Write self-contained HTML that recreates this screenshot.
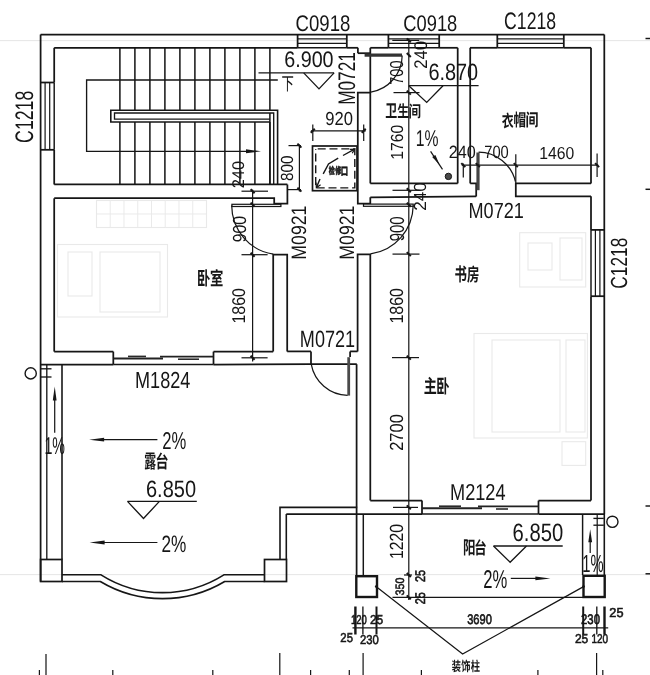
<!DOCTYPE html>
<html><head><meta charset="utf-8"><title>Floor plan</title>
<style>
html,body{margin:0;padding:0;background:#fff;}
body{width:650px;height:675px;overflow:hidden;font-family:"Liberation Sans",sans-serif;}
svg{display:block;filter:grayscale(1)}
svg text{font-family:"Liberation Sans",sans-serif;font-size:20px;font-kerning:none;text-rendering:geometricPrecision;white-space:pre}
svg text.cjk{font-family:"Liberation Sans","Noto Sans CJK SC",sans-serif;font-weight:bold}
</style></head><body>
<svg width="650" height="675" viewBox="0 0 650 675" stroke-linecap="butt">
<rect width="650" height="675" fill="#ffffff"/>
<line x1="0" y1="40.6" x2="650" y2="40.6" stroke="#e4e4e4" stroke-width="0.976"/>
<line x1="0" y1="574.6" x2="650" y2="574.6" stroke="#e4e4e4" stroke-width="0.976"/>
<rect x="96.5" y="200.5" width="110" height="27" fill="none" stroke="#e9e9e9" stroke-width="1.098"/>
<line x1="110.25" y1="200.5" x2="110.25" y2="227.5" stroke="#e9e9e9" stroke-width="0.976"/>
<line x1="124" y1="200.5" x2="124" y2="227.5" stroke="#e9e9e9" stroke-width="0.976"/>
<line x1="137.75" y1="200.5" x2="137.75" y2="227.5" stroke="#e9e9e9" stroke-width="0.976"/>
<line x1="151.5" y1="200.5" x2="151.5" y2="227.5" stroke="#e9e9e9" stroke-width="0.976"/>
<line x1="165.25" y1="200.5" x2="165.25" y2="227.5" stroke="#e9e9e9" stroke-width="0.976"/>
<line x1="179" y1="200.5" x2="179" y2="227.5" stroke="#e9e9e9" stroke-width="0.976"/>
<line x1="192.75" y1="200.5" x2="192.75" y2="227.5" stroke="#e9e9e9" stroke-width="0.976"/>
<line x1="96.5" y1="214" x2="206.5" y2="214" stroke="#e9e9e9" stroke-width="0.976"/>
<rect x="57.5" y="244.5" width="110" height="72.5" fill="none" stroke="#e9e9e9" stroke-width="1.098"/>
<rect x="68" y="252" width="24" height="44" fill="none" stroke="#e9e9e9" stroke-width="1.098"/>
<rect x="100" y="252" width="60" height="60" fill="none" stroke="#e9e9e9" stroke-width="1.098"/>
<rect x="519.7" y="232.7" width="66" height="54.3" fill="none" stroke="#e9e9e9" stroke-width="1.098"/>
<rect x="528" y="243" width="24" height="27" fill="none" stroke="#e9e9e9" stroke-width="1.098"/>
<rect x="560" y="238" width="22" height="42" fill="none" stroke="#e9e9e9" stroke-width="1.098"/>
<rect x="474" y="333.5" width="113.4" height="104.5" fill="none" stroke="#e9e9e9" stroke-width="1.098"/>
<rect x="492" y="340" width="68" height="92" fill="none" stroke="#e9e9e9" stroke-width="1.098"/>
<rect x="566" y="340" width="19" height="92" fill="none" stroke="#e9e9e9" stroke-width="1.098"/>
<rect x="562" y="441.7" width="23.7" height="23.7" fill="none" stroke="#e9e9e9" stroke-width="1.098"/>
<line x1="645.5" y1="38.5" x2="650" y2="38.5" stroke="#161616" stroke-width="1.464"/>
<line x1="645.5" y1="189.3" x2="650" y2="189.3" stroke="#161616" stroke-width="1.464"/>
<line x1="645.5" y1="506" x2="650" y2="506" stroke="#161616" stroke-width="1.464"/>
<line x1="645.5" y1="573.8" x2="650" y2="573.8" stroke="#161616" stroke-width="1.464"/>
<line x1="40.6" y1="34.6" x2="604.3" y2="34.6" stroke="#161616" stroke-width="1.75"/>
<line x1="54.2" y1="47.8" x2="297.6" y2="47.8" stroke="#161616" stroke-width="1.75"/>
<line x1="297.6" y1="38.9" x2="346.8" y2="38.9" stroke="#161616" stroke-width="1.342"/>
<line x1="297.6" y1="43.3" x2="346.8" y2="43.3" stroke="#161616" stroke-width="1.342"/>
<line x1="297.6" y1="47.8" x2="346.8" y2="47.8" stroke="#161616" stroke-width="1.464"/>
<line x1="297.6" y1="34.6" x2="297.6" y2="47.8" stroke="#161616" stroke-width="1.75"/>
<line x1="346.8" y1="34.6" x2="346.8" y2="47.8" stroke="#161616" stroke-width="1.75"/>
<line x1="346.8" y1="47.8" x2="357.9" y2="47.8" stroke="#161616" stroke-width="1.75"/>
<line x1="357.9" y1="47.8" x2="357.9" y2="53.2" stroke="#161616" stroke-width="1.75"/>
<line x1="357.9" y1="53.2" x2="363" y2="53.2" stroke="#161616" stroke-width="1.75"/>
<line x1="370.3" y1="47.8" x2="388.4" y2="47.8" stroke="#161616" stroke-width="1.75"/>
<line x1="388.4" y1="38.9" x2="439.2" y2="38.9" stroke="#161616" stroke-width="1.342"/>
<line x1="388.4" y1="43.3" x2="439.2" y2="43.3" stroke="#161616" stroke-width="1.342"/>
<line x1="388.4" y1="47.8" x2="439.2" y2="47.8" stroke="#161616" stroke-width="1.464"/>
<line x1="388.4" y1="34.6" x2="388.4" y2="47.8" stroke="#161616" stroke-width="1.75"/>
<line x1="439.2" y1="34.6" x2="439.2" y2="47.8" stroke="#161616" stroke-width="1.75"/>
<line x1="439.2" y1="47.8" x2="457.7" y2="47.8" stroke="#161616" stroke-width="1.75"/>
<line x1="470" y1="47.8" x2="497.3" y2="47.8" stroke="#161616" stroke-width="1.75"/>
<line x1="497.3" y1="38.9" x2="563.8" y2="38.9" stroke="#161616" stroke-width="1.342"/>
<line x1="497.3" y1="43.3" x2="563.8" y2="43.3" stroke="#161616" stroke-width="1.342"/>
<line x1="497.3" y1="47.8" x2="563.8" y2="47.8" stroke="#161616" stroke-width="1.464"/>
<line x1="497.3" y1="34.6" x2="497.3" y2="47.8" stroke="#161616" stroke-width="1.75"/>
<line x1="563.8" y1="34.6" x2="563.8" y2="47.8" stroke="#161616" stroke-width="1.75"/>
<line x1="563.8" y1="47.8" x2="591" y2="47.8" stroke="#161616" stroke-width="1.75"/>
<line x1="40.6" y1="34.6" x2="40.6" y2="581.5" stroke="#161616" stroke-width="1.75"/>
<line x1="54.2" y1="47.8" x2="54.2" y2="82.5" stroke="#161616" stroke-width="1.75"/>
<line x1="45.1" y1="82.5" x2="45.1" y2="149.8" stroke="#161616" stroke-width="1.22"/>
<line x1="49.7" y1="82.5" x2="49.7" y2="149.8" stroke="#161616" stroke-width="1.22"/>
<line x1="54.2" y1="82.5" x2="54.2" y2="149.8" stroke="#161616" stroke-width="1.464"/>
<line x1="40.6" y1="82.5" x2="54.2" y2="82.5" stroke="#161616" stroke-width="1.75"/>
<line x1="40.6" y1="149.8" x2="54.2" y2="149.8" stroke="#161616" stroke-width="1.75"/>
<line x1="54.2" y1="149.8" x2="54.2" y2="184.5" stroke="#161616" stroke-width="1.75"/>
<line x1="54.2" y1="198.3" x2="54.2" y2="351.6" stroke="#161616" stroke-width="1.75"/>
<line x1="604.3" y1="34.6" x2="604.3" y2="514" stroke="#161616" stroke-width="1.75"/>
<line x1="591" y1="47.8" x2="591" y2="183.4" stroke="#161616" stroke-width="1.75"/>
<line x1="591" y1="196.3" x2="591" y2="229.9" stroke="#161616" stroke-width="1.75"/>
<line x1="595.4" y1="229.9" x2="595.4" y2="296.2" stroke="#161616" stroke-width="1.22"/>
<line x1="599.9" y1="229.9" x2="599.9" y2="296.2" stroke="#161616" stroke-width="1.22"/>
<line x1="591" y1="229.9" x2="591" y2="296.2" stroke="#161616" stroke-width="1.464"/>
<line x1="591" y1="229.9" x2="604.3" y2="229.9" stroke="#161616" stroke-width="1.75"/>
<line x1="591" y1="296.2" x2="604.3" y2="296.2" stroke="#161616" stroke-width="1.75"/>
<line x1="591" y1="296.2" x2="591" y2="500.6" stroke="#161616" stroke-width="1.75"/>
<line x1="119.9" y1="47.8" x2="119.9" y2="110.2" stroke="#161616" stroke-width="1.525"/>
<line x1="119.9" y1="122" x2="119.9" y2="184.5" stroke="#161616" stroke-width="1.525"/>
<line x1="134.9" y1="47.8" x2="134.9" y2="110.2" stroke="#161616" stroke-width="1.525"/>
<line x1="134.9" y1="122" x2="134.9" y2="184.5" stroke="#161616" stroke-width="1.525"/>
<line x1="149.9" y1="47.8" x2="149.9" y2="110.2" stroke="#161616" stroke-width="1.525"/>
<line x1="149.9" y1="122" x2="149.9" y2="184.5" stroke="#161616" stroke-width="1.525"/>
<line x1="164.9" y1="47.8" x2="164.9" y2="110.2" stroke="#161616" stroke-width="1.525"/>
<line x1="164.9" y1="122" x2="164.9" y2="184.5" stroke="#161616" stroke-width="1.525"/>
<line x1="179.9" y1="47.8" x2="179.9" y2="110.2" stroke="#161616" stroke-width="1.525"/>
<line x1="179.9" y1="122" x2="179.9" y2="184.5" stroke="#161616" stroke-width="1.525"/>
<line x1="194.9" y1="47.8" x2="194.9" y2="110.2" stroke="#161616" stroke-width="1.525"/>
<line x1="194.9" y1="122" x2="194.9" y2="184.5" stroke="#161616" stroke-width="1.525"/>
<line x1="209.9" y1="47.8" x2="209.9" y2="110.2" stroke="#161616" stroke-width="1.525"/>
<line x1="209.9" y1="122" x2="209.9" y2="184.5" stroke="#161616" stroke-width="1.525"/>
<line x1="224.9" y1="47.8" x2="224.9" y2="110.2" stroke="#161616" stroke-width="1.525"/>
<line x1="224.9" y1="122" x2="224.9" y2="184.5" stroke="#161616" stroke-width="1.525"/>
<line x1="239.9" y1="47.8" x2="239.9" y2="110.2" stroke="#161616" stroke-width="1.525"/>
<line x1="239.9" y1="122" x2="239.9" y2="184.5" stroke="#161616" stroke-width="1.525"/>
<line x1="254.9" y1="47.8" x2="254.9" y2="110.2" stroke="#161616" stroke-width="1.525"/>
<line x1="254.9" y1="122" x2="254.9" y2="184.5" stroke="#161616" stroke-width="1.525"/>
<line x1="269.9" y1="47.8" x2="269.9" y2="110.2" stroke="#161616" stroke-width="1.525"/>
<line x1="269.9" y1="122" x2="269.9" y2="184.5" stroke="#161616" stroke-width="1.525"/>
<path d="M277.8,80 L86.6,80 L86.6,151.3 L250,151.3" fill="none" stroke="#161616" stroke-width="1.342"/>
<path d="M261,151.3 L246,153.32 L246,149.28 Z" fill="#161616"/>
<path d="M277.6,184.5 L277.6,110.2 L110.8,110.2 L110.8,122 L269.9,122" fill="none" stroke="#161616" stroke-width="1.586"/>
<path d="M273.7,184.5 L273.7,113 L114.5,113 L114.5,119.1 L269.9,119.1" fill="none" stroke="#161616" stroke-width="1.342"/>
<line x1="269.9" y1="113" x2="269.9" y2="184.5" stroke="#161616" stroke-width="1.525"/>
<line x1="54.2" y1="184.4" x2="287.4" y2="184.4" stroke="#161616" stroke-width="1.75"/>
<path d="M54.2,198 L274.2,198 L274.2,203.5 L287.4,203.5 L287.4,184.4" fill="none" stroke="#161616" stroke-width="1.75"/>
<rect x="231.9" y="204.3" width="49" height="2.2" fill="#fff" stroke="#161616" stroke-width="1.22"/>
<path d="M231.7,205.6 A49.3,49.3 0 0 0 273.3,254.2" fill="none" stroke="#161616" stroke-width="1.22"/>
<path d="M273.2,351.4 L273.2,254.6 L287.2,254.6 L287.2,351.4" fill="none" stroke="#161616" stroke-width="1.75"/>
<path d="M363,53.2 L370.3,53.2" fill="none" stroke="#161616" stroke-width="1.75"/>
<line x1="370.3" y1="47.8" x2="370.3" y2="183.4" stroke="#161616" stroke-width="1.75"/>
<path d="M370.3,92.6 L357.8,92.6 L357.8,203.6 L370.3,203.6 L370.3,197.3" fill="none" stroke="#161616" stroke-width="1.75"/>
<line x1="364.6" y1="55.1" x2="402" y2="55.1" stroke="#333" stroke-width="3.2"/>
<path d="M402.2,55.5 A37.6,37.6 0 0 1 370.8,92.1" fill="none" stroke="#161616" stroke-width="1.22"/>
<rect x="363.5" y="204.1" width="49.7" height="2.2" fill="#fff" stroke="#161616" stroke-width="1.22"/>
<path d="M413.2,205.6 A49.5,49.5 0 0 1 370.6,253.9" fill="none" stroke="#161616" stroke-width="1.22"/>
<path d="M357.6,351.4 L357.6,254.3 L370.3,254.3 L370.3,500.6" fill="none" stroke="#161616" stroke-width="1.75"/>
<line x1="457.7" y1="47.8" x2="457.7" y2="183.4" stroke="#161616" stroke-width="1.75"/>
<line x1="470.2" y1="47.8" x2="470.2" y2="183.4" stroke="#161616" stroke-width="1.75"/>
<line x1="370.3" y1="183.4" x2="457.7" y2="183.4" stroke="#161616" stroke-width="1.75"/>
<path d="M470.2,183.4 L476.2,183.4 L476.2,196.4" fill="none" stroke="#161616" stroke-width="1.75"/>
<line x1="370.3" y1="197.3" x2="476.2" y2="196.4" stroke="#161616" stroke-width="1.75"/>
<line x1="478" y1="152.5" x2="478" y2="190.2" stroke="#444" stroke-width="3.2"/>
<path d="M478.6,152.2 A38,38 0 0 1 515.4,181.5" fill="none" stroke="#161616" stroke-width="1.22"/>
<path d="M591,183.4 L515.8,183.4 L515.8,196.3 L591,196.3" fill="none" stroke="#161616" stroke-width="1.75"/>
<line x1="54.2" y1="351.6" x2="113.3" y2="351.6" stroke="#161616" stroke-width="1.75"/>
<line x1="113.3" y1="351.6" x2="113.3" y2="364.5" stroke="#161616" stroke-width="1.75"/>
<line x1="213.5" y1="351.6" x2="213.5" y2="364.5" stroke="#161616" stroke-width="1.75"/>
<line x1="213.5" y1="351.6" x2="273.2" y2="351.6" stroke="#161616" stroke-width="1.75"/>
<line x1="40.6" y1="364.5" x2="113.3" y2="364.5" stroke="#161616" stroke-width="1.75"/>
<line x1="113.3" y1="364.5" x2="213.5" y2="364.5" stroke="#161616" stroke-width="1.342"/>
<line x1="213.5" y1="364.5" x2="311" y2="364.2" stroke="#161616" stroke-width="1.75"/>
<line x1="113.6" y1="358.5" x2="163" y2="358.5" stroke="#222" stroke-width="1.9"/>
<line x1="160" y1="356.6" x2="213" y2="356.6" stroke="#222" stroke-width="1.9"/>
<line x1="128" y1="356.4" x2="146" y2="356.4" stroke="#2a2a2a" stroke-width="1.6"/>
<line x1="178" y1="359.2" x2="199" y2="359.2" stroke="#2a2a2a" stroke-width="1.6"/>
<line x1="287.2" y1="351.4" x2="311" y2="351.4" stroke="#161616" stroke-width="1.75"/>
<line x1="311" y1="351.4" x2="311" y2="364.2" stroke="#161616" stroke-width="1.75"/>
<line x1="350.1" y1="351.4" x2="357.6" y2="351.4" stroke="#161616" stroke-width="1.75"/>
<line x1="350.1" y1="351.4" x2="350.1" y2="357" stroke="#161616" stroke-width="1.75"/>
<line x1="311" y1="364.2" x2="356.8" y2="364.2" stroke="#161616" stroke-width="1.75"/>
<line x1="348.7" y1="357.2" x2="348.7" y2="395.6" stroke="#4a4a4a" stroke-width="2.8"/>
<path d="M311.2,364.2 A38,38 0 0 0 347.6,395.4" fill="none" stroke="#161616" stroke-width="1.22"/>
<line x1="356.6" y1="364.2" x2="356.6" y2="575" stroke="#161616" stroke-width="1.75"/>
<line x1="370.3" y1="500.6" x2="422" y2="500.6" stroke="#161616" stroke-width="1.75"/>
<line x1="422" y1="500.6" x2="422" y2="514" stroke="#161616" stroke-width="1.75"/>
<line x1="538.5" y1="500.6" x2="591" y2="500.6" stroke="#161616" stroke-width="1.75"/>
<line x1="538.5" y1="500.6" x2="538.5" y2="514" stroke="#161616" stroke-width="1.75"/>
<line x1="286.3" y1="514" x2="422" y2="514" stroke="#161616" stroke-width="1.75"/>
<line x1="422" y1="514" x2="538.5" y2="514" stroke="#161616" stroke-width="1.342"/>
<line x1="538.5" y1="514" x2="604.3" y2="514" stroke="#161616" stroke-width="1.75"/>
<line x1="422" y1="508.2" x2="482" y2="508.2" stroke="#222" stroke-width="1.9"/>
<line x1="478" y1="506.4" x2="538.5" y2="506.4" stroke="#222" stroke-width="1.9"/>
<line x1="439" y1="506.2" x2="461" y2="506.2" stroke="#2a2a2a" stroke-width="1.6"/>
<line x1="496" y1="509" x2="508" y2="509" stroke="#2a2a2a" stroke-width="1.6"/>
<line x1="46.8" y1="364.5" x2="46.8" y2="559.5" stroke="#161616" stroke-width="1.342"/>
<line x1="62" y1="364.5" x2="62" y2="559.5" stroke="#161616" stroke-width="1.586"/>
<rect x="40.6" y="559.5" width="21.4" height="22" fill="none" stroke="#161616" stroke-width="1.708"/>
<rect x="264.5" y="559.5" width="22" height="22" fill="none" stroke="#161616" stroke-width="1.708"/>
<path d="M62,574.8 L101,574.8 A115,115 0 0 0 223.9,574.8 L264.5,574.8" fill="none" stroke="#161616" stroke-width="1.586"/>
<path d="M62,581.5 L100.3,581.5 A121.3,121.3 0 0 0 224.7,581.5 L264.5,581.5" fill="none" stroke="#161616" stroke-width="1.586"/>
<path d="M280,559.5 L280,507.4 L357.2,507.4" fill="none" stroke="#161616" stroke-width="1.586"/>
<line x1="286.3" y1="514" x2="286.3" y2="559.5" stroke="#161616" stroke-width="1.586"/>
<line x1="363.3" y1="514" x2="363.3" y2="575" stroke="#161616" stroke-width="1.464"/>
<rect x="356.3" y="576.2" width="20.7" height="20.8" fill="none" stroke="#161616" stroke-width="2.4"/>
<line x1="582.6" y1="514" x2="582.6" y2="575" stroke="#161616" stroke-width="1.464"/>
<line x1="597.2" y1="514" x2="597.2" y2="575" stroke="#161616" stroke-width="1.22"/>
<line x1="604.3" y1="514" x2="604.3" y2="575" stroke="#161616" stroke-width="1.586"/>
<rect x="583.5" y="575.8" width="21.2" height="21.2" fill="none" stroke="#161616" stroke-width="2.4"/>
<line x1="392.5" y1="597.4" x2="583" y2="597.4" stroke="#161616" stroke-width="1.342"/>
<circle cx="30.7" cy="373.4" r="5.6" fill="none" stroke="#161616" stroke-width="1.4"/>
<line x1="40.6" y1="368.8" x2="51.5" y2="368.8" stroke="#161616" stroke-width="1.342"/>
<line x1="40.6" y1="377" x2="51.5" y2="377" stroke="#161616" stroke-width="1.342"/>
<circle cx="612.4" cy="521.8" r="5.6" fill="none" stroke="#161616" stroke-width="1.4"/>
<line x1="593.4" y1="518.4" x2="603.8" y2="518.4" stroke="#161616" stroke-width="1.342"/>
<line x1="593.4" y1="525.2" x2="603.8" y2="525.2" stroke="#161616" stroke-width="1.342"/>
<circle cx="448.4" cy="176.4" r="3.2" fill="#4a4a4a" stroke="#161616" stroke-width="1"/>
<line x1="54.7" y1="398" x2="54.7" y2="432.7" stroke="#161616" stroke-width="1.22"/>
<path d="M54.7,386.5 L56.6,400.5 L52.8,400.5 Z" fill="#161616"/>
<line x1="590.2" y1="541" x2="590.2" y2="553" stroke="#161616" stroke-width="1.22"/>
<path d="M590.2,529.3 L592.1,542.3 L588.3,542.3 Z" fill="#161616"/>
<line x1="103" y1="439.7" x2="157.4" y2="439.7" stroke="#161616" stroke-width="1.22"/>
<path d="M89.1,439.7 L104.1,437.8 L104.1,441.6 Z" fill="#161616"/>
<line x1="103" y1="542.5" x2="157.4" y2="542.5" stroke="#161616" stroke-width="1.22"/>
<path d="M89.6,542.5 L104.6,540.6 L104.6,544.4 Z" fill="#161616"/>
<line x1="510.8" y1="578.4" x2="537" y2="578.4" stroke="#161616" stroke-width="1.22"/>
<path d="M550.4,578.4 L535.4,580.3 L535.4,576.5 Z" fill="#161616"/>
<line x1="430.6" y1="151.4" x2="442.5" y2="169.3" stroke="#161616" stroke-width="1.22"/>
<path d="M439.6,164.8 L432.2,157.11 L435.37,155 Z" fill="#161616"/>
<line x1="258.5" y1="72.9" x2="334.1" y2="72.9" stroke="#161616" stroke-width="1.342"/>
<path d="M303.7,72.9 L319,88.9 L334.1,72.9" fill="none" stroke="#161616" stroke-width="1.342"/>
<line x1="408.8" y1="85.7" x2="478.6" y2="85.7" stroke="#161616" stroke-width="1.342"/>
<path d="M408.8,85.7 L426.7,102.4 L443,85.7" fill="none" stroke="#161616" stroke-width="1.342"/>
<line x1="127.5" y1="501.4" x2="196.8" y2="501.4" stroke="#161616" stroke-width="1.342"/>
<path d="M127.5,501.4 L143.5,518.5 L159.4,501.4" fill="none" stroke="#161616" stroke-width="1.342"/>
<line x1="493.5" y1="546" x2="562.7" y2="546" stroke="#161616" stroke-width="1.342"/>
<path d="M493.5,546 L510.1,562.2 L526.5,546" fill="none" stroke="#161616" stroke-width="1.342"/>
<rect x="312.5" y="146" width="44.5" height="44.7" fill="none" stroke="#161616" stroke-width="1.708"/>
<rect x="315.7" y="148.9" width="39.1" height="39" fill="none" stroke="#161616" stroke-width="1.4029999999999998" stroke-dasharray="8 3.8" stroke-dashoffset="-2"/>
<path d="M354.6,149.2 L343,155.5 M338.2,158.2 L328.5,164 L323.2,173.8 M320,179 L316.4,187.6" fill="none" stroke="#161616" stroke-width="1.4029999999999998"/>
<path d="M349.8,149.4 L354.6,149.2 L352.2,153.2" fill="none" stroke="#161616" stroke-width="1.22"/>
<path d="M316,182.6 L316.4,187.6 L320.6,184.8" fill="none" stroke="#161616" stroke-width="1.22"/>
<line x1="252.6" y1="189.7" x2="252.6" y2="361.5" stroke="#161616" stroke-width="1.22"/>
<line x1="241.5" y1="191.2" x2="268" y2="191.2" stroke="#161616" stroke-width="1.22"/>
<line x1="250.6" y1="189.2" x2="254.6" y2="193.2" stroke="#161616" stroke-width="2.0"/>
<line x1="250.6" y1="202.6" x2="254.6" y2="206.6" stroke="#161616" stroke-width="2.0"/>
<line x1="241.5" y1="254.7" x2="267.6" y2="254.7" stroke="#161616" stroke-width="1.22"/>
<line x1="250.6" y1="252.7" x2="254.6" y2="256.7" stroke="#161616" stroke-width="2.0"/>
<line x1="241.5" y1="357.8" x2="267.6" y2="357.8" stroke="#161616" stroke-width="1.22"/>
<line x1="250.6" y1="355.8" x2="254.6" y2="359.8" stroke="#161616" stroke-width="2.0"/>
<line x1="299.4" y1="144.5" x2="299.4" y2="191.5" stroke="#161616" stroke-width="1.22"/>
<line x1="288.5" y1="145.6" x2="301" y2="145.6" stroke="#161616" stroke-width="1.22"/>
<line x1="287.2" y1="189.6" x2="301" y2="189.6" stroke="#161616" stroke-width="1.22"/>
<line x1="297.4" y1="143.6" x2="301.4" y2="147.6" stroke="#161616" stroke-width="2.0"/>
<line x1="297.4" y1="187.6" x2="301.4" y2="191.6" stroke="#161616" stroke-width="2.0"/>
<line x1="310.9" y1="130.8" x2="365.8" y2="130.8" stroke="#161616" stroke-width="1.22"/>
<line x1="312.8" y1="124.4" x2="312.8" y2="141" stroke="#161616" stroke-width="1.22"/>
<line x1="310.8" y1="132.8" x2="314.8" y2="128.8" stroke="#161616" stroke-width="2.0"/>
<line x1="363.7" y1="124.4" x2="363.7" y2="141" stroke="#161616" stroke-width="1.22"/>
<line x1="361.7" y1="132.8" x2="365.7" y2="128.8" stroke="#161616" stroke-width="2.0"/>
<line x1="408.8" y1="38.8" x2="408.8" y2="600" stroke="#161616" stroke-width="1.22"/>
<line x1="392.3" y1="40.4" x2="419.2" y2="40.4" stroke="#161616" stroke-width="1.22"/>
<line x1="406.8" y1="38.4" x2="410.8" y2="42.4" stroke="#161616" stroke-width="2.0"/>
<line x1="408" y1="55" x2="408" y2="55" stroke="#161616" stroke-width="1.22"/>
<line x1="406.8" y1="53" x2="410.8" y2="57" stroke="#161616" stroke-width="2.0"/>
<line x1="393.5" y1="92.6" x2="419.5" y2="92.6" stroke="#161616" stroke-width="1.22"/>
<line x1="406.8" y1="90.6" x2="410.8" y2="94.6" stroke="#161616" stroke-width="2.0"/>
<line x1="392.5" y1="190.3" x2="419.5" y2="190.3" stroke="#161616" stroke-width="1.22"/>
<line x1="406.8" y1="188.3" x2="410.8" y2="192.3" stroke="#161616" stroke-width="2.0"/>
<line x1="408" y1="204.8" x2="408" y2="204.8" stroke="#161616" stroke-width="1.22"/>
<line x1="406.8" y1="202.8" x2="410.8" y2="206.8" stroke="#161616" stroke-width="2.0"/>
<line x1="392.5" y1="254.1" x2="419.5" y2="254.1" stroke="#161616" stroke-width="1.22"/>
<line x1="406.8" y1="252.1" x2="410.8" y2="256.1" stroke="#161616" stroke-width="2.0"/>
<line x1="392" y1="357.6" x2="419" y2="357.6" stroke="#161616" stroke-width="1.22"/>
<line x1="406.8" y1="355.6" x2="410.8" y2="359.6" stroke="#161616" stroke-width="2.0"/>
<line x1="393" y1="507.4" x2="418" y2="507.4" stroke="#161616" stroke-width="1.22"/>
<line x1="406.8" y1="505.4" x2="410.8" y2="509.4" stroke="#161616" stroke-width="2.0"/>
<line x1="404" y1="575" x2="412" y2="575" stroke="#161616" stroke-width="1.22"/>
<line x1="406.8" y1="573" x2="410.8" y2="577" stroke="#161616" stroke-width="2.0"/>
<line x1="406.8" y1="595.4" x2="410.8" y2="599.4" stroke="#161616" stroke-width="2.0"/>
<line x1="461.7" y1="165.1" x2="598.3" y2="165.1" stroke="#161616" stroke-width="1.22"/>
<line x1="463.3" y1="163.4" x2="463.3" y2="177.5" stroke="#161616" stroke-width="1.22"/>
<line x1="461.3" y1="163.1" x2="465.3" y2="167.1" stroke="#161616" stroke-width="2.0"/>
<line x1="477.8" y1="165" x2="477.8" y2="165" stroke="#161616" stroke-width="1.22"/>
<line x1="475.8" y1="163.1" x2="479.8" y2="167.1" stroke="#161616" stroke-width="2.0"/>
<line x1="515.8" y1="154.2" x2="515.8" y2="183.4" stroke="#161616" stroke-width="1.22"/>
<line x1="513.8" y1="163.1" x2="517.8" y2="167.1" stroke="#161616" stroke-width="2.0"/>
<line x1="597.1" y1="153.5" x2="597.1" y2="177" stroke="#161616" stroke-width="1.22"/>
<line x1="595.1" y1="163.1" x2="599.1" y2="167.1" stroke="#161616" stroke-width="2.0"/>
<line x1="352.5" y1="627.8" x2="608.2" y2="627.8" stroke="#161616" stroke-width="1.22"/>
<line x1="355.4" y1="606.5" x2="355.4" y2="634.5" stroke="#161616" stroke-width="2.4"/>
<line x1="362.9" y1="606.5" x2="362.9" y2="634.5" stroke="#161616" stroke-width="1.342"/>
<line x1="376.5" y1="606.5" x2="376.5" y2="634.5" stroke="#161616" stroke-width="2.0"/>
<line x1="583.2" y1="606.5" x2="583.2" y2="634.5" stroke="#161616" stroke-width="2.0"/>
<line x1="596.8" y1="606.5" x2="596.8" y2="634.5" stroke="#161616" stroke-width="1.342"/>
<line x1="604.5" y1="606.5" x2="604.5" y2="634.5" stroke="#161616" stroke-width="2.4"/>
<path d="M376,586.4 L462.6,654.1 L584,586.4" fill="none" stroke="#161616" stroke-width="1.22"/>
<circle cx="376.2" cy="586.5" r="1.3" fill="#161616"/>
<circle cx="583.6" cy="586.5" r="1.3" fill="#161616"/>
<line x1="46" y1="654" x2="46" y2="675" stroke="#161616" stroke-width="1.22"/>
<line x1="39.4" y1="670" x2="39.4" y2="675" stroke="#161616" stroke-width="1.22"/>
<line x1="112.8" y1="670" x2="112.8" y2="675" stroke="#161616" stroke-width="1.22"/>
<line x1="212.8" y1="670" x2="212.8" y2="675" stroke="#161616" stroke-width="1.22"/>
<line x1="279.8" y1="653" x2="279.8" y2="675" stroke="#161616" stroke-width="1.22"/>
<line x1="310.6" y1="670" x2="310.6" y2="675" stroke="#161616" stroke-width="1.22"/>
<line x1="349.3" y1="670" x2="349.3" y2="675" stroke="#161616" stroke-width="1.22"/>
<line x1="363.1" y1="653" x2="363.1" y2="675" stroke="#161616" stroke-width="1.22"/>
<line x1="421.4" y1="670" x2="421.4" y2="675" stroke="#161616" stroke-width="1.22"/>
<line x1="537.9" y1="670" x2="537.9" y2="675" stroke="#161616" stroke-width="1.22"/>
<line x1="596.6" y1="653" x2="596.6" y2="675" stroke="#161616" stroke-width="1.22"/>
<line x1="602.8" y1="670" x2="602.8" y2="675" stroke="#161616" stroke-width="1.22"/>
<text transform="matrix(0.9290,0,0,1.1299,295.56,30.58)" fill="#161616">C0918</text>
<text transform="matrix(0.9150,0,0,1.1299,403.37,30.58)" fill="#161616">C0918</text>
<text transform="matrix(0.8817,0,0,1.1935,504.10,29.07)" fill="#161616">C1218</text>
<text transform="matrix(0.9865,0,0,1.1229,284.20,67.48)" fill="#161616">6.900</text>
<text transform="matrix(0.8278,0,0,0.9463,325.22,124.72)" fill="#161616">920</text>
<text transform="matrix(0.9948,0,0,1.1794,428.39,80.27)" fill="#161616">6.870</text>
<text transform="matrix(0.7874,0,0,1.1433,415.80,146.37)" fill="#161616">1%</text>
<text transform="matrix(0.8106,0,0,0.8898,448.78,158.43)" fill="#161616">240</text>
<text transform="matrix(0.7350,0,0,0.8898,484.25,158.43)" fill="#161616">700</text>
<text transform="matrix(0.7870,0,0,0.8686,539.30,158.63)" fill="#161616">1460</text>
<text transform="matrix(0.9054,0,0,1.0946,468.51,218.09)" fill="#161616">M0721</text>
<text transform="matrix(0.9037,0,0,1.1794,299.82,347.07)" fill="#161616">M0721</text>
<text transform="matrix(0.9045,0,0,1.1582,135.02,387.57)" fill="#161616">M1824</text>
<text transform="matrix(0.9079,0,0,1.1529,450.01,499.50)" fill="#161616">M2124</text>
<text transform="matrix(0.8313,0,0,1.2214,162.16,448.86)" fill="#161616">2%</text>
<text transform="matrix(0.8607,0,0,1.1859,161.43,551.56)" fill="#161616">2%</text>
<text transform="matrix(1.0010,0,0,1.1864,145.98,496.77)" fill="#161616">6.850</text>
<text transform="matrix(0.7124,0,0,1.2148,44.41,453.86)" fill="#161616">1%</text>
<text transform="matrix(1.0114,0,0,1.2570,512.57,540.95)" fill="#161616">6.850</text>
<text transform="matrix(0.8313,0,0,1.2853,483.36,587.75)" fill="#161616">2%</text>
<text transform="matrix(0.7387,0,0,1.2434,582.37,572.15)" fill="#161616">1%</text>
<text transform="matrix(0.4732,0,0,0.6426,351.08,624.47)" fill="#161616" stroke="#161616" stroke-width="0.9">120</text>
<text transform="matrix(0.6029,0,0,0.6426,369.89,624.47)" fill="#161616" stroke="#161616" stroke-width="0.9">25</text>
<text transform="matrix(0.5686,0,0,0.6426,340.33,641.67)" fill="#161616" stroke="#161616" stroke-width="0.9">25</text>
<text transform="matrix(0.5636,0,0,0.6426,360.03,644.17)" fill="#161616" stroke="#161616" stroke-width="0.9">230</text>
<text transform="matrix(0.5565,0,0,0.6921,467.18,624.46)" fill="#161616" stroke="#161616" stroke-width="0.9">3690</text>
<text transform="matrix(0.5699,0,0,0.6921,581.03,624.46)" fill="#161616" stroke="#161616" stroke-width="0.9">230</text>
<text transform="matrix(0.6372,0,0,0.6497,609.36,617.07)" fill="#161616" stroke="#161616" stroke-width="0.9">25</text>
<text transform="matrix(0.6029,0,0,0.6426,574.89,643.47)" fill="#161616" stroke="#161616" stroke-width="0.9">25</text>
<text transform="matrix(0.4990,0,0,0.6426,591.44,643.47)" fill="#161616" stroke="#161616" stroke-width="0.9">120</text>
<text transform="matrix(0,-0.8852,1.2712,0,32.75,142.90)" fill="#161616">C1218</text>
<text transform="matrix(0,-0.8641,1.1652,0,627.27,288.68)" fill="#161616">C1218</text>
<text transform="matrix(0,-0.8610,1.2006,0,355.37,104.81)" fill="#161616">M0721</text>
<text transform="matrix(0,-0.8832,1.0452,0,306.20,259.65)" fill="#161616">M0921</text>
<text transform="matrix(0,-0.8832,1.0452,0,354.30,259.65)" fill="#161616">M0921</text>
<text transform="matrix(0,-0.8233,0.8474,0,243.83,188.33)" fill="#161616">240</text>
<text transform="matrix(0,-0.7630,0.8757,0,292.93,181.06)" fill="#161616">800</text>
<text transform="matrix(0,-0.7899,0.9463,0,246.12,242.34)" fill="#161616">900</text>
<text transform="matrix(0,-0.7488,1.0169,0,403.80,241.30)" fill="#161616">900</text>
<text transform="matrix(0,-0.8012,0.9251,0,245.42,323.62)" fill="#161616">1860</text>
<text transform="matrix(0,-0.8012,0.9534,0,402.81,323.62)" fill="#161616">1860</text>
<text transform="matrix(0,-0.8359,0.9181,0,426.82,68.84)" fill="#161616">240</text>
<text transform="matrix(0,-0.7287,0.9393,0,403.42,84.75)" fill="#161616">700</text>
<text transform="matrix(0,-0.7822,0.8757,0,402.83,159.69)" fill="#161616">1760</text>
<text transform="matrix(0,-0.8549,0.8757,0,426.23,210.86)" fill="#161616">240</text>
<text transform="matrix(0,-0.8243,0.9463,0,402.62,450.83)" fill="#161616">2700</text>
<text transform="matrix(0,-0.7870,0.9534,0,402.81,559.10)" fill="#161616">1220</text>
<text transform="matrix(0,-0.5404,0.6073,0,404.08,595.41)" fill="#161616" stroke="#161616" stroke-width="0.9">350</text>
<text transform="matrix(0,-0.5441,0.6991,0,425.06,582.05)" fill="#161616" stroke="#161616" stroke-width="0.9">25</text>
<text transform="matrix(0,-0.5441,0.6991,0,425.06,604.25)" fill="#161616" stroke="#161616" stroke-width="0.9">25</text>
<text class="cjk" transform="matrix(0.6175,0,0,0.8935,281.52,90.09)" fill="#161616" style="font-weight:normal">下</text>
<text class="cjk" transform="matrix(0.5985,0,0,0.8820,385.15,117.12)" fill="#161616">卫</text>
<text class="cjk" transform="matrix(0.5900,0,0,0.8125,397.14,117.21)" fill="#161616">生</text>
<text class="cjk" transform="matrix(0.6295,0,0,0.7950,408.39,116.80)" fill="#161616">间</text>
<text class="cjk" transform="matrix(0.5915,0,0,0.8440,501.69,126.50)" fill="#161616">衣</text>
<text class="cjk" transform="matrix(0.6270,0,0,0.8520,513.59,126.47)" fill="#161616">帽</text>
<text class="cjk" transform="matrix(0.6515,0,0,0.8595,525.48,126.49)" fill="#161616">间</text>
<text class="cjk" transform="matrix(0.3020,0,0,0.4735,328.84,174.46)" fill="#161616" stroke="#161616" stroke-width="1.2">检</text>
<text class="cjk" transform="matrix(0.2980,0,0,0.4790,335.13,174.45)" fill="#161616" stroke="#161616" stroke-width="1.2">修</text>
<text class="cjk" transform="matrix(0.3645,0,0,0.5475,340.67,174.53)" fill="#161616" stroke="#161616" stroke-width="1.2">口</text>
<text class="cjk" transform="matrix(0.6670,0,0,0.9370,196.95,285.00)" fill="#161616">卧</text>
<text class="cjk" transform="matrix(0.6670,0,0,0.9285,210.05,285.35)" fill="#161616">室</text>
<text class="cjk" transform="matrix(0.6200,0,0,0.9290,454.49,281.22)" fill="#161616">书</text>
<text class="cjk" transform="matrix(0.6150,0,0,0.9125,467.07,281.03)" fill="#161616">房</text>
<text class="cjk" transform="matrix(0.6545,0,0,0.9515,423.82,393.40)" fill="#161616">主</text>
<text class="cjk" transform="matrix(0.6615,0,0,0.9425,436.18,392.99)" fill="#161616">卧</text>
<text class="cjk" transform="matrix(0.5920,0,0,0.9505,144.22,467.79)" fill="#161616">露</text>
<text class="cjk" transform="matrix(0.6495,0,0,0.9005,155.59,467.90)" fill="#161616">台</text>
<text class="cjk" transform="matrix(0.6235,0,0,0.9045,462.99,553.74)" fill="#161616">阳</text>
<text class="cjk" transform="matrix(0.6245,0,0,0.8535,474.26,553.78)" fill="#161616">台</text>
<text class="cjk" transform="matrix(0.4610,0,0,0.6655,451.76,670.91)" fill="#161616">装</text>
<text class="cjk" transform="matrix(0.4635,0,0,0.6725,461.29,671.00)" fill="#161616">饰</text>
<text class="cjk" transform="matrix(0.4615,0,0,0.6700,470.64,671.01)" fill="#161616">柱</text>
</svg>
</body></html>
